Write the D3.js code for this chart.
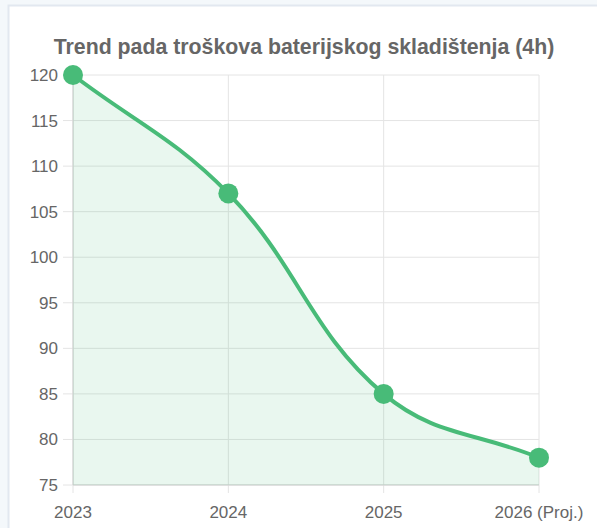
<!DOCTYPE html>
<html>
<head>
<meta charset="utf-8">
<title>Trend pada troškova</title>
<style>
  html, body { margin: 0; padding: 0; background: #f4f8fb; }
  svg { display: block; font-family: "Liberation Sans", Arial, sans-serif; }
</style>
</head>
<body>
<svg id="chart" width="597" height="528"></svg>
<script src="https://cdnjs.cloudflare.com/ajax/libs/d3/7.8.5/d3.min.js"></script>
<script>
var years = ['2023', '2024', '2025', '2026 (Proj.)'];
var costs = [120, 107, 85, 78];
var yTicks = [75, 80, 85, 90, 95, 100, 105, 110, 115, 120];
var title = 'Trend pada troškova baterijskog skladištenja (4h)';

var green = '#48bb78';
var svg = d3.select('#chart');

// card
svg.append('rect').attr('x', 8.5).attr('y', 5.5).attr('width', 600).attr('height', 540)
  .style('fill', '#fff').style('stroke', '#e2e8f0').style('stroke-width', 2);

var plotL = 73, plotR = 539, plotT = 75, plotB = 485;
var x = d3.scalePoint().domain(years).range([plotL, plotR]);
var y = d3.scaleLinear().domain([75, 120]).range([plotB, plotT]);

svg.append('text').attr('x', 304).attr('y', 54).attr('text-anchor', 'middle')
  .style('font-size', '21.3px').style('font-weight', 'bold').style('fill', '#666').text(title);

var grid = svg.append('g');
grid.selectAll('line.h').data(yTicks).enter().append('line')
  .attr('x1', plotL - 10).attr('x2', plotR)
  .attr('y1', function (d) { return y(d); }).attr('y2', function (d) { return y(d); })
  .style('stroke', '#e4e4e4').style('stroke-width', 1);
grid.selectAll('line.v').data(years).enter().append('line')
  .attr('x1', function (d) { return x(d); }).attr('x2', function (d) { return x(d); })
  .attr('y1', plotT).attr('y2', plotB + 8)
  .style('stroke', '#e4e4e4').style('stroke-width', 1);
// axis borders
svg.append('line').attr('x1', plotL).attr('x2', plotL).attr('y1', plotT).attr('y2', plotB)
  .style('stroke', '#cfcfcf');
svg.append('line').attr('x1', plotL).attr('x2', plotR).attr('y1', plotB).attr('y2', plotB)
  .style('stroke', '#cfcfcf');

svg.append('g').selectAll('text').data(yTicks).enter().append('text')
  .attr('x', plotL - 15).attr('y', function (d) { return y(d) + 6; })
  .attr('text-anchor', 'end').style('font-size', '17px').style('fill', '#666')
  .text(function (d) { return d; });
svg.append('g').selectAll('text').data(years).enter().append('text')
  .attr('x', function (d) { return x(d); }).attr('y', 518)
  .attr('text-anchor', 'middle').style('font-size', '17px').style('fill', '#666')
  .text(function (d) { return d; });

// Chart.js style spline (tension 0.4)
var pts = years.map(function (d, i) { return { x: x(d), y: y(costs[i]) }; });
var t = 0.4;
pts.forEach(function (p, i) {
  var p0 = pts[i - 1] || p, p2 = pts[i + 1] || p;
  var d01 = Math.hypot(p.x - p0.x, p.y - p0.y), d12 = Math.hypot(p2.x - p.x, p2.y - p.y);
  var s01 = d01 / (d01 + d12), s12 = d12 / (d01 + d12);
  var fa = t * s01, fb = t * s12;
  p.cpPrev = { x: p.x - fa * (p2.x - p0.x), y: p.y - fa * (p2.y - p0.y) };
  p.cpNext = { x: p.x + fb * (p2.x - p0.x), y: p.y + fb * (p2.y - p0.y) };
});
function curve(path) {
  path.moveTo(pts[0].x, pts[0].y);
  for (var i = 1; i < pts.length; i++) {
    var a = pts[i - 1], b = pts[i];
    path.bezierCurveTo(a.cpNext.x, a.cpNext.y, b.cpPrev.x, b.cpPrev.y, b.x, b.y);
  }
  return path;
}
var area = curve(d3.path());
area.lineTo(pts[pts.length - 1].x, plotB);
area.lineTo(pts[0].x, plotB);
area.closePath();
svg.append('path').attr('d', area.toString()).style('fill', 'rgba(72,187,120,0.12)');
svg.append('path').attr('d', curve(d3.path()).toString())
  .style('fill', 'none').style('stroke', green).style('stroke-width', 4);

svg.append('g').selectAll('circle').data(pts).enter().append('circle')
  .attr('cx', function (d) { return d.x; }).attr('cy', function (d) { return d.y; })
  .attr('r', 10).style('fill', green);
</script>
</body>
</html>
